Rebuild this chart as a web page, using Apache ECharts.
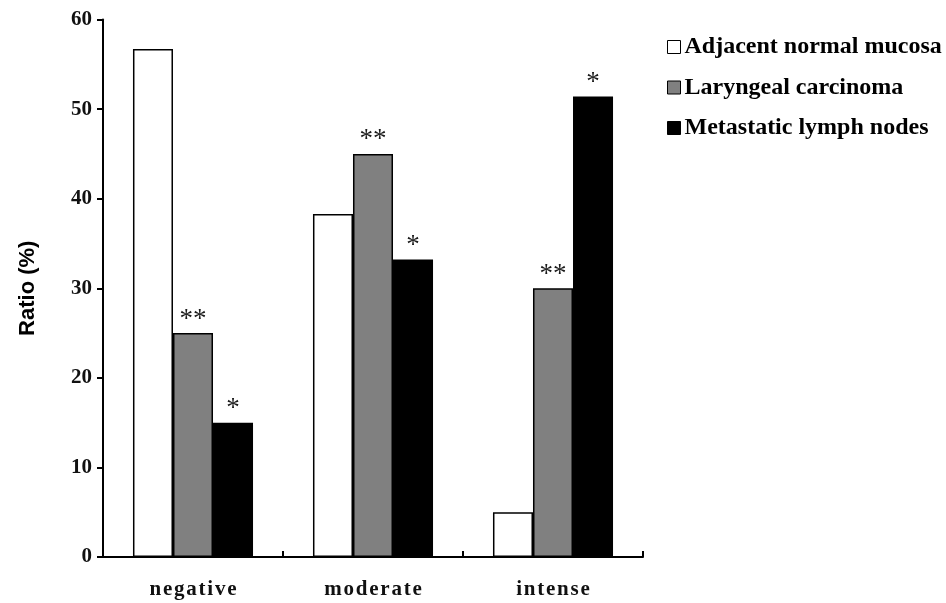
<!DOCTYPE html>
<html>
<head>
<meta charset="utf-8">
<script src="https://cdn.jsdelivr.net/npm/echarts@6/dist/echarts.min.js"></script>
<style>
  html, body { margin: 0; padding: 0; background: #fff; }
  #chart { width: 946px; height: 603px; }
</style>
</head>
<body>
<div id="chart"></div>
<script>
// Staining intensity groups and the share of samples (%) in each
const categories = ['negative', 'moderate', 'intense'];
const seriesNames = ['Adjacent normal mucosa', 'Laryngeal carcinoma', 'Metastatic lymph nodes'];
const normalMucosa = [56.7, 38.3, 5.0];
const laryngealCarcinoma = [25.0, 45.0, 30.0];
const lymphNodes = [15.0, 33.2, 51.4];
// Significance marks shown above each bar
const normalMarks = ['', '', ''];
const carcinomaMarks = ['**', '**', '**'];
const lymphMarks = ['*', '*', '*'];
const yTicks = [0, 10, 20, 30, 40, 50, 60];

const serif = '"Liberation Serif", "Times New Roman", serif';
const fills = ['#ffffff', '#808080', '#000000'];
const values = [normalMucosa, laryngealCarcinoma, lymphNodes];
const marks = [normalMarks, carcinomaMarks, lymphMarks];

const chart = echarts.init(document.getElementById('chart'), null, { renderer: 'canvas' });

const series = seriesNames.map((name, i) => ({
  name: name,
  type: 'bar',
  barGap: '0%',
  barCategoryGap: '33.3%',
  data: values[i],
  itemStyle: { color: fills[i], borderColor: '#000', borderWidth: 1.5 },
  label: {
    show: true,
    position: 'top',
    distance: 0,
    formatter: p => marks[i][p.dataIndex],
    fontFamily: serif,
    fontSize: 27,
    color: '#1a1a1a'
  },
  emphasis: { disabled: true }
}));

chart.setOption({
  animation: false,
  backgroundColor: '#fff',
  grid: { left: 103, right: 303, top: 19.5, bottom: 46, containLabel: false },
  legend: {
    orient: 'vertical',
    left: 667,
    top: 35,
    padding: 0,
    itemWidth: 13,
    itemHeight: 13,
    itemGap: 16.5,
    icon: 'rect',
    data: seriesNames,
    textStyle: { fontFamily: serif, fontWeight: 'bold', fontSize: 24, lineHeight: 24, color: '#000', padding: [0, 0, 0, -1] },
    itemStyle: { borderColor: '#000', borderWidth: 1 }
  },
  xAxis: {
    type: 'category',
    data: categories,
    axisLine: { lineStyle: { color: '#000', width: 2 } },
    axisTick: { show: true, inside: true, length: 6, lineStyle: { color: '#000', width: 2 } },
    axisLabel: {
      margin: 22,
      fontFamily: serif,
      fontWeight: 'bold',
      fontSize: 21,
      color: '#111',
      formatter: v => v.split('').join('\u200A')
    }
  },
  yAxis: {
    type: 'value',
    min: 0,
    max: 60,
    interval: 10,
    name: 'Ratio (%)',
    nameLocation: 'middle',
    nameGap: 64,
    nameRotate: 90,
    nameTextStyle: { fontFamily: '"Liberation Sans", Arial, sans-serif', fontWeight: 'bold', fontSize: 22, color: '#000' },
    splitLine: { show: false },
    axisLine: { show: true, lineStyle: { color: '#000', width: 2 } },
    axisTick: { show: true, length: 6, lineStyle: { color: '#000', width: 2 } },
    axisLabel: {
      margin: 11,
      fontFamily: serif,
      fontWeight: 'bold',
      fontSize: 21,
      color: '#111',
      formatter: v => (yTicks.includes(v) ? String(v) : '')
    }
  },
  series: series
});
</script>
</body>
</html>
